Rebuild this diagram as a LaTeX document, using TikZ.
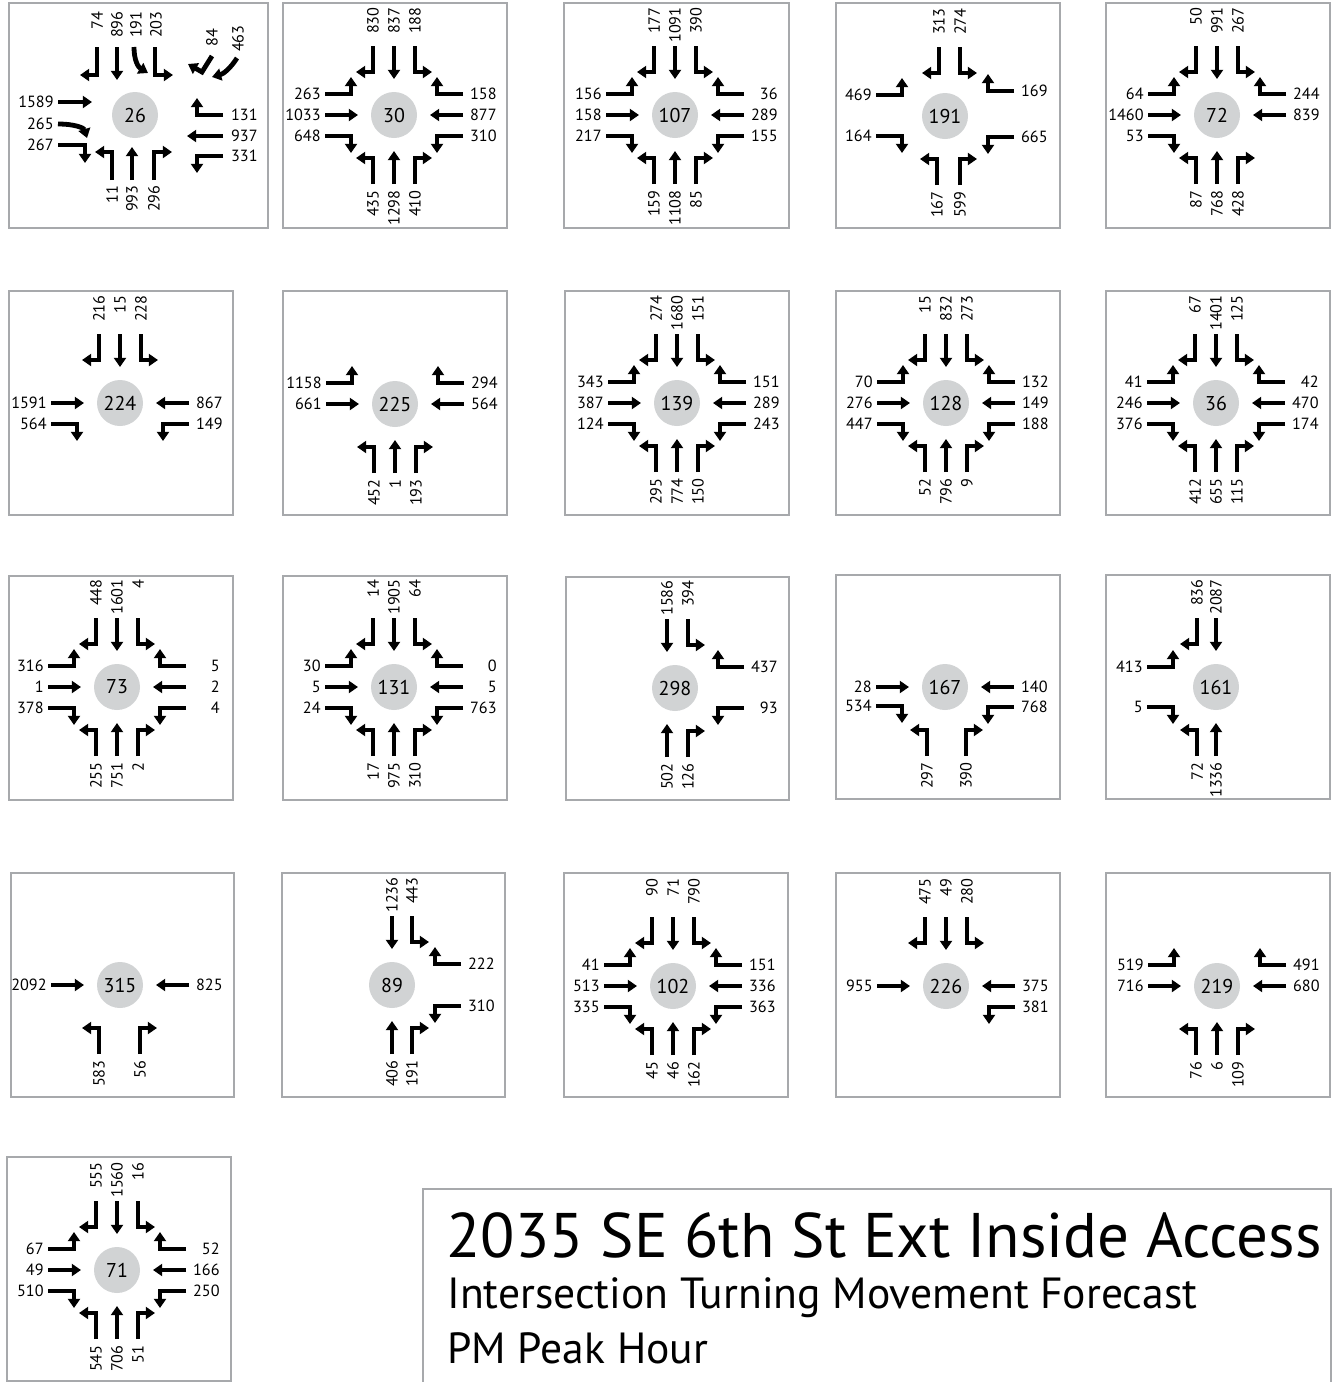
\documentclass[tikz,border=0pt]{standalone}
\usepackage{fontspec}
\setmainfont{PT Sans}
\usetikzlibrary{arrows.meta}
\definecolor{boxgray}{RGB}{167,169,172}
\definecolor{hubgray}{RGB}{209,211,212}

\tikzset{
  panel/.style={draw=boxgray, line width=1pt},
  hub/.style={circle, fill=hubgray, minimum size=23pt, inner sep=0pt, font=\fontsize{10}{12}\selectfont},
  mv/.style={line width=2.4pt, -{Triangle[width=6pt,length=4.6pt]}},
  vol/.style={inner sep=0pt, font=\fontsize{8.1}{10}\selectfont},
  volN/.style={vol, rotate=90, anchor=east},
  volS/.style={vol, rotate=90, anchor=east},
  volW/.style={vol, anchor=east},
  volE/.style={vol, anchor=east},
  title/.style={anchor=base west, inner sep=0pt},
}

% one approach: hub, turn angle, label distance, label style, lanes offset/kind/volume
\newcommand{\appr}[5]{%
  \begin{scope}[shift={(#1)}, rotate=#2]
    \foreach \off/\kind/\vol [count=\n] in {#5} {
      \if t\kind
        \draw[mv] (\off,-69) -- (\off,-36);
      \else\if p\kind
        \draw[mv] (\off,-69) -- (\off,-43) -- ({\off+17},-43);
      \else
        \draw[mv] (\off,-69) -- (\off,-43) -- ({\off-17},-43);
      \fi\fi
      \node[#4] (#1a#2n\n) at (\off,-#3) {\vol};
    }
  \end{scope}}
\newcommand{\fromN}[2]{\appr{#1}{0}{108}{volN}{#2}}
\newcommand{\fromW}[2]{\appr{#1}{90}{73}{volW}{#2}}
\newcommand{\fromS}[2]{\appr{#1}{180}{75}{volS}{#2}}
\newcommand{\fromE}[2]{\appr{#1}{270}{103}{volE}{#2}}

\begin{document}
\begin{tikzpicture}[x=0.5pt,y=-0.5pt]
  \useasboundingbox (0,0) rectangle (1333,1382);

  % panel frames
  \draw[panel] (9,3) rectangle (268,228);
  \draw[panel] (283,3) rectangle (507,228);
  \draw[panel] (564,3) rectangle (789,228);
  \draw[panel] (836,3) rectangle (1060,228);
  \draw[panel] (1106,3) rectangle (1330,228);
  \draw[panel] (9,291) rectangle (233,515);
  \draw[panel] (283,291) rectangle (507,515);
  \draw[panel] (565,291) rectangle (789,515);
  \draw[panel] (836,291) rectangle (1060,515);
  \draw[panel] (1106,291) rectangle (1330,515);
  \draw[panel] (9,576) rectangle (233,800);
  \draw[panel] (283,576) rectangle (507,800);
  \draw[panel] (566,577) rectangle (789,800);
  \draw[panel] (836,575) rectangle (1060,799);
  \draw[panel] (1106,575) rectangle (1330,799);
  \draw[panel] (11,873) rectangle (234,1097);
  \draw[panel] (282,873) rectangle (505,1097);
  \draw[panel] (564,873) rectangle (788,1097);
  \draw[panel] (836,873) rectangle (1060,1097);
  \draw[panel] (1106,873) rectangle (1330,1097);
  \draw[panel] (7,1157) rectangle (231,1381);
  \draw[panel] (423,1189) rectangle (1331,1386);

  % intersection hubs
  \node[hub] (c26) at (135,115) {26};
  \node[hub] (c30) at (394,115) {30};
  \node[hub] (c107) at (675,115) {107};
  \node[hub] (c191) at (945,116) {191};
  \node[hub] (c72) at (1217,115) {72};
  \node[hub] (c224) at (120,403) {224};
  \node[hub] (c225) at (395,404) {225};
  \node[hub] (c139) at (677,403) {139};
  \node[hub] (c128) at (946,403) {128};
  \node[hub] (c36) at (1216,403) {36};
  \node[hub] (c73) at (117,687) {73};
  \node[hub] (c131) at (394,687) {131};
  \node[hub] (c298) at (675,688) {298};
  \node[hub] (c167) at (945,687) {167};
  \node[hub] (c161) at (1216,687) {161};
  \node[hub] (c315) at (120,985) {315};
  \node[hub] (c89) at (392,985) {89};
  \node[hub] (c102) at (673,986) {102};
  \node[hub] (c226) at (946,986) {226};
  \node[hub] (c219) at (1217,986) {219};
  \node[hub] (c71) at (117,1270) {71};

  % 26 has odd legs, drawn by hand
  \begin{scope}[shift={(c26)}]
    \draw[mv] (-38,-68) -- (-38,-40) -- (-55,-40);
    \draw[mv] (-18,-68) -- (-18,-35);
    \draw[mv] (-1,-68) .. controls (-1,-55) and (3,-48) .. (13,-42);
    \draw[mv] (20,-68) -- (20,-40) -- (38,-40);
    \draw[mv] (77,-59) -- (67,-43) -- (53,-51);
    \draw[mv] (102,-57) .. controls (95,-46) and (88,-41) .. (77,-38);
    \node[volN] (c26n1) at (-38,-104) {74};
    \node[volN] (c26n2) at (-18,-104) {896};
    \node[volN] (c26n3) at (1,-104) {191};
    \node[volN] (c26n4) at (21,-104) {203};
    \node[volN] (c26n5) at (77,-87) {84};
    \node[volN] (c26n6) at (103,-90) {463};
    \draw[mv] (-77,-13) -- (-43,-13);
    \draw[mv] (-77,9) .. controls (-60,9) and (-51,13) .. (-48,23);
    \draw[mv] (-77,30) -- (-50,30) -- (-50,48);
    \node[volW] (c26w1) at (-81,-13) {1589};
    \node[volW] (c26w2) at (-81,9) {265};
    \node[volW] (c26w3) at (-81,30) {267};
    \draw[mv] (88,0) -- (62,0) -- (62,-17);
    \draw[mv] (88,21) -- (52,21);
    \draw[mv] (88,41) -- (62,41) -- (62,58);
    \node[volE] (c26e1) at (123,0) {131};
    \node[volE] (c26e2) at (123,21) {937};
    \node[volE] (c26e3) at (123,41) {331};
    \draw[mv] (-23,65) -- (-23,37) -- (-40,37);
    \draw[mv] (-3,65) -- (-3,32);
    \draw[mv] (19,65) -- (19,37) -- (37,37);
    \node[volS] (c26s1) at (-23,70) {11};
    \node[volS] (c26s2) at (-3,70) {993};
    \node[volS] (c26s3) at (19,70) {296};
  \end{scope}

  % row 1
  \fromN{c30}{-21/m/830, 0/t/837, 21/p/188}
  \fromW{c30}{21/p/263, 0/t/1033, -21/m/648}
  \fromS{c30}{21/p/435, 0/t/1298, -21/m/410}
  \fromE{c30}{-21/m/158, 0/t/877, 21/p/310}
  \fromN{c107}{-21/m/177, 0/t/1091, 21/p/390}
  \fromW{c107}{21/p/156, 0/t/158, -21/m/217}
  \fromS{c107}{21/p/159, 0/t/1108, -21/m/85}
  \fromE{c107}{-21/m/36, 0/t/289, 21/p/155}
  \fromN{c191}{-6/m/313, 15/p/274}
  \fromW{c191}{21/p/469, -20/m/164}
  \fromS{c191}{8/p/167, -15/m/599}
  \fromE{c191}{-25/m/169, 21/p/665}
  \fromN{c72}{-21/m/50, 0/t/991, 21/p/267}
  \fromW{c72}{21/p/64, 0/t/1460, -21/m/53}
  \fromS{c72}{21/p/87, 0/t/768, -21/m/428}
  \fromE{c72}{-21/m/244, 0/t/839}

  % row 2
  \fromN{c224}{-21/m/216, 0/t/15, 21/p/228}
  \fromW{c224}{0/t/1591, -21/m/564}
  \fromE{c224}{0/t/867, 21/p/149}
  \fromW{c225}{21/p/1158, 0/t/661}
  \fromS{c225}{21/p/452, 0/t/1, -21/m/193}
  \fromE{c225}{-21/m/294, 0/t/564}
  \fromN{c139}{-21/m/274, 0/t/1680, 21/p/151}
  \fromW{c139}{21/p/343, 0/t/387, -21/m/124}
  \fromS{c139}{21/p/295, 0/t/774, -21/m/150}
  \fromE{c139}{-21/m/151, 0/t/289, 21/p/243}
  \fromN{c128}{-21/m/15, 0/t/832, 21/p/273}
  \fromW{c128}{21/p/70, 0/t/276, -21/m/447}
  \fromS{c128}{21/p/52, 0/t/796, -21/m/9}
  \fromE{c128}{-21/m/132, 0/t/149, 21/p/188}
  \fromN{c36}{-21/m/67, 0/t/1401, 21/p/125}
  \fromW{c36}{21/p/41, 0/t/246, -21/m/376}
  \fromS{c36}{21/p/412, 0/t/655, -21/m/115}
  \fromE{c36}{-21/m/42, 0/t/470, 21/p/174}

  % row 3
  \fromN{c73}{-21/m/448, 0/t/1601, 21/p/4}
  \fromW{c73}{21/p/316, 0/t/1, -21/m/378}
  \fromS{c73}{21/p/255, 0/t/751, -21/m/2}
  \fromE{c73}{-21/m/5, 0/t/2, 21/p/4}
  \fromN{c131}{-21/m/14, 0/t/1905, 21/p/64}
  \fromW{c131}{21/p/30, 0/t/5, -21/m/24}
  \fromS{c131}{21/p/17, 0/t/975, -21/m/310}
  \fromE{c131}{-21/m/0, 0/t/5, 21/p/763}
  \fromN{c298}{-8/t/1586, 13/p/394}
  \fromS{c298}{8/t/502, -13/m/126}
  \fromE{c298}{-21/m/437, 20/p/93}
  \fromW{c167}{0/t/28, -19/m/534}
  \fromS{c167}{18/p/297, -21/m/390}
  \fromE{c167}{0/t/140, 20/p/768}
  \fromN{c161}{-19/m/836, 0/t/2087}
  \fromW{c161}{20/p/413, -20/m/5}
  \fromS{c161}{19/p/72, 0/t/1336}

  % row 4
  \fromW{c315}{0/t/2092}
  \fromS{c315}{21/p/583, -20/m/56}
  \fromE{c315}{0/t/825}
  \fromN{c89}{0/t/1236, 20/p/443}
  \fromS{c89}{0/t/406, -20/m/191}
  \fromE{c89}{-21/m/222, 21/p/310}
  \fromN{c102}{-21/m/90, 0/t/71, 21/p/790}
  \fromW{c102}{21/p/41, 0/t/513, -21/m/335}
  \fromS{c102}{21/p/45, 0/t/46, -21/m/162}
  \fromE{c102}{-21/m/151, 0/t/336, 21/p/363}
  \fromN{c226}{-21/m/475, 0/t/49, 21/p/280}
  \fromW{c226}{0/t/955}
  \fromE{c226}{0/t/375, 21/p/381}
  \fromW{c219}{21/p/519, 0/t/716}
  \fromS{c219}{21/p/76, 0/t/6, -21/m/109}
  \fromE{c219}{-21/m/491, 0/t/680}

  % row 5
  \fromN{c71}{-21/m/555, 0/t/1560, 21/p/16}
  \fromW{c71}{21/p/67, 0/t/49, -21/m/510}
  \fromS{c71}{21/p/545, 0/t/706, -21/m/51}
  \fromE{c71}{-21/m/52, 0/t/166, 21/p/250}

  % title block
  \node[title, font=\fontsize{31.5}{35}\selectfont] (head) at (446,1257) {2035 SE 6th St Ext Inside Access};
  \node[title, font=\fontsize{21.8}{25}\selectfont] (sub) at (447,1308) {Intersection Turning Movement Forecast};
  \node[title, font=\fontsize{21.8}{25}\selectfont] (peak) at (447,1363) {PM Peak Hour};
\end{tikzpicture}
\end{document}
